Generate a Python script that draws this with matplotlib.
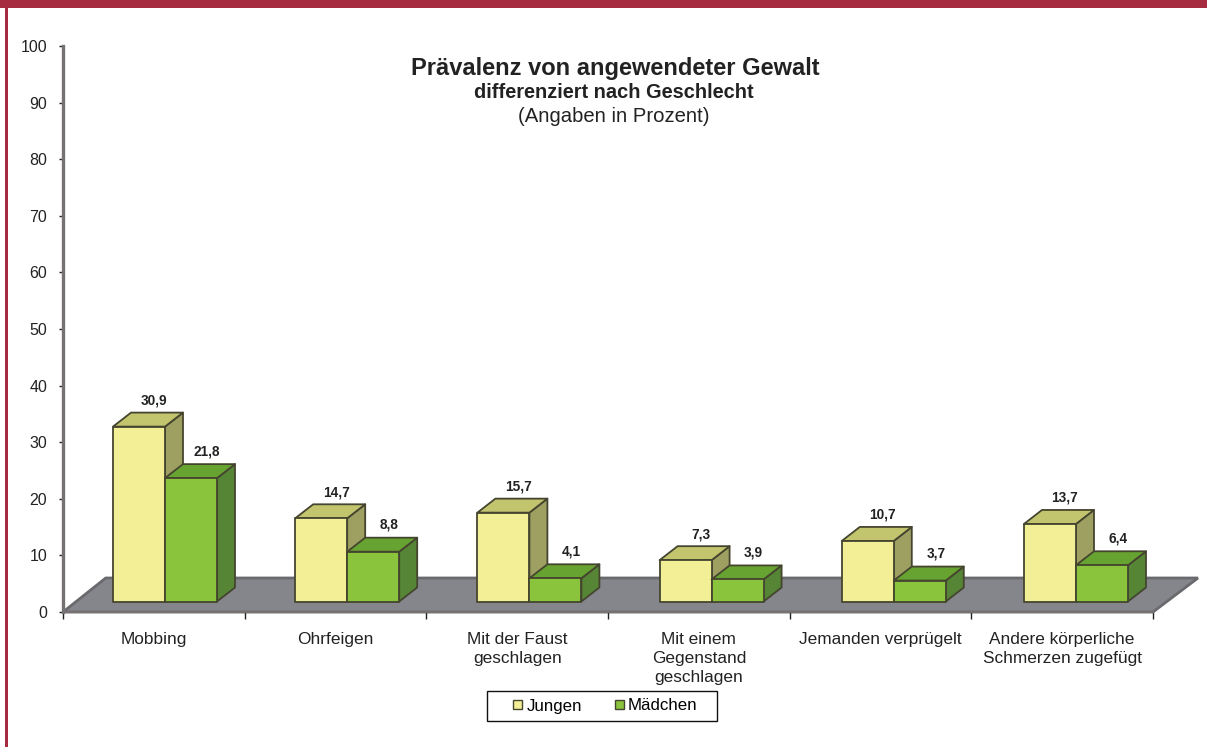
import numpy as np
import matplotlib
matplotlib.use("Agg")
import matplotlib.pyplot as plt
from matplotlib.patches import Polygon, Patch, Rectangle

plt.rcParams['font.family'] = ['Liberation Sans', 'DejaVu Sans']

categories = ["Mobbing", "Ohrfeigen", "Mit der Faust\ngeschlagen",
              "Mit einem\nGegenstand\ngeschlagen", "Jemanden verprügelt",
              "Andere körperliche\nSchmerzen zugefügt"]
jungen = [30.9, 14.7, 15.7, 7.3, 10.7, 13.7]
maedchen = [21.8, 8.8, 4.1, 3.9, 3.7, 6.4]
jungen_labels = ["30,9", "14,7", "15,7", "7,3", "10,7", "13,7"]
maedchen_labels = ["21,8", "8,8", "4,1", "3,9", "3,7", "6,4"]
yticks = list(range(0, 101, 10))

W, H = 1207, 747
RED = "#A62B41"
EDGE = "#45452f"
TEXT = "#222222"
YELLOW = ("#F3EF96", "#C3C46E", "#9EA062")
GREEN = ("#8AC43C", "#67A331", "#558535")

fig = plt.figure(figsize=(W / 100, H / 100), dpi=100, facecolor="white")

# page border: band on top, thin line on the left
fig.add_artist(Rectangle((0, 1 - 8 / H), 1, 8 / H, transform=fig.transFigure, fc=RED, ec="none"))
fig.add_artist(Rectangle((5 / W, 0), 2.5 / W, 1, transform=fig.transFigure, fc=RED, ec="none"))

# axes box in pixels: x 63..1153, y 612..46
ax = fig.add_axes([63 / W, 1 - 612 / H, 1090 / W, 566 / H])
ax.set_xlim(0, 6)
ax.set_ylim(0, 100)
px_x = 6 / 1090
px_y = 100 / 566

# fake 3d sizes
dx, dy = 18 * px_x, 14 * px_y
base = 10.5 * px_y
bar_w = 52 * px_x
bar_off = 50 * px_x
step = 182.2 / 181.67


def draw_bar(x, val, cols):
    top = base + val
    kw = dict(ec=EDGE, lw=1.3, joinstyle="round", zorder=3, clip_on=False)
    ax.add_patch(Polygon([(x + bar_w, base), (x + bar_w + dx, base + dy),
                          (x + bar_w + dx, top + dy), (x + bar_w, top)], fc=cols[2], **kw))
    ax.add_patch(Polygon([(x, top), (x + bar_w, top), (x + bar_w + dx, top + dy),
                          (x + dx, top + dy)], fc=cols[1], **kw))
    ax.add_patch(Polygon([(x, base), (x + bar_w, base), (x + bar_w, top), (x, top)], fc=cols[0], **kw))
    return top


# floor
fl_dx, fl_dy = 45 * px_x, 34 * px_y
ax.add_patch(Polygon([(0, 0), (6, 0), (6 + fl_dx, fl_dy), (fl_dx * 0.95, fl_dy)],
                     fc="#85868C", ec="#6a6a6e", lw=2, zorder=1, clip_on=False))

for i in range(len(categories)):
    x0 = i * step + bar_off
    top = draw_bar(x0, jungen[i], YELLOW)
    ax.text(x0 + bar_w / 2 + 15 * px_x, top + dy + 12 * px_y, jungen_labels[i], ha="center", va="center",
            fontsize=9.8, fontweight="bold", color=TEXT, zorder=5)
    x1 = x0 + bar_w
    top = draw_bar(x1, maedchen[i], GREEN)
    ax.text(x1 + bar_w / 2 + 16 * px_x, top + dy + 13 * px_y, maedchen_labels[i], ha="center", va="center",
            fontsize=9.8, fontweight="bold", color=TEXT, zorder=5)

for s in ["top", "right"]:
    ax.spines[s].set_visible(False)
ax.spines["left"].set_color("#777272")
ax.spines["left"].set_linewidth(2.4)
ax.spines["bottom"].set_color("#777272")
ax.spines["bottom"].set_linewidth(1.6)
ax.patch.set_visible(False)

ax.set_yticks(yticks)
ax.tick_params(axis="y", length=3, width=1, color="#222222", labelsize=11.5, labelcolor=TEXT, pad=8.5)
ax.set_xticks(range(7))
ax.set_xticklabels([])
ax.tick_params(axis="x", which="major", length=5, width=1, color="#222222")
ax.set_xticks(np.arange(6) + 0.5, minor=True)
ax.set_xticklabels(categories, minor=True, fontsize=12.4, color=TEXT, linespacing=1.32)
ax.tick_params(axis="x", which="minor", length=0, pad=14.5)

# title block
fig.text(615 / W, 1 - 68.5 / H, "Prävalenz von angewendeter Gewalt", ha="center", va="center",
         fontsize=17, fontweight="bold", color=TEXT)
fig.text(614 / W, 1 - 93 / H, "differenziert nach Geschlecht", ha="center", va="center",
         fontsize=14.4, fontweight="bold", color=TEXT)
fig.text(614 / W, 1 - 116.5 / H, "(Angaben in Prozent)", ha="center", va="center",
         fontsize=14.6, color=TEXT)

# legend box drawn apart so its width can follow the reference
fig.add_artist(Rectangle((487 / W, 1 - 721 / H), 230 / W, 30 / H, transform=fig.transFigure,
                         fc="white", ec="#111111", lw=1))
handles = [Patch(fc=YELLOW[0], ec=EDGE, lw=1, label="Jungen"),
           Patch(fc=GREEN[0], ec=EDGE, lw=1, label="Mädchen")]
fig.legend(handles=handles, loc="center", bbox_to_anchor=(605.5 / W, 1 - 706 / H), ncol=2,
           fontsize=12.2, frameon=False, handlelength=0.52, handleheight=0.52,
           handletextpad=0.25, columnspacing=1.95, borderpad=0, borderaxespad=0)

fig.savefig("out.png", dpi=100)
